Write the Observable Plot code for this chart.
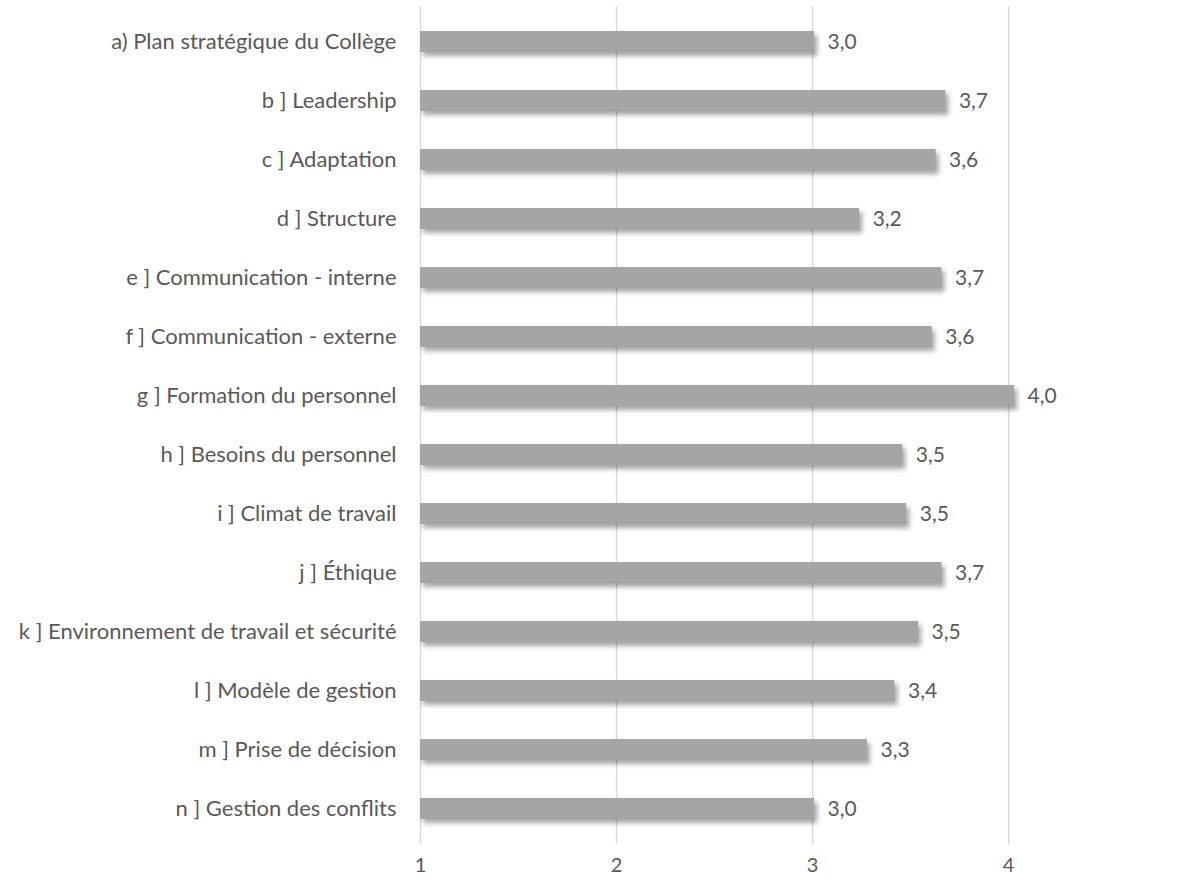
<!DOCTYPE html>
<html><head><meta charset="utf-8">
<script src="https://cdn.jsdelivr.net/npm/d3@7"></script>
<script src="https://cdn.jsdelivr.net/npm/@observablehq/plot@0.6"></script>
<style>body{margin:0;background:#fff;}</style>
</head><body><div id="chart"></div>
<script>
const categories = [
  "a) Plan stratégique du Collège",
  "b ] Leadership",
  "c ] Adaptation",
  "d ] Structure",
  "e ] Communication - interne",
  "f ] Communication - externe",
  "g ] Formation du personnel",
  "h ] Besoins du personnel",
  "i ] Climat de travail",
  "j ] Éthique",
  "k ] Environnement de travail et sécurité",
  "l ] Modèle de gestion",
  "m ] Prise de décision",
  "n ] Gestion des conflits"
];
const values = [3.01, 3.68, 3.63, 3.24, 3.66, 3.61, 4.03, 3.46, 3.48, 3.66, 3.54, 3.42, 3.28, 3.01];
const xTicks = [1, 2, 3, 4];

const data = categories.map((c, i) => ({category: c, value: values[i]}));
const fmt = v => d3.format(".1f")(v).replace(".", ",");

const chart = Plot.plot({
  width: 1193,
  height: 880,
  marginLeft: 420,
  marginRight: 28,
  marginTop: 6,
  marginBottom: 36,
  style: {fontFamily: "Lato, sans-serif", fontSize: "22px", color: "#595959", background: "#fff"},
  x: {domain: [1, 4.8], ticks: xTicks, tickSize: 0, tickPadding: 13, label: null, tickFormat: d => String(d)},
  y: {domain: categories, paddingInner: 0.64, paddingOuter: 0.38, tickSize: 0, tickPadding: 24, label: null},
  marks: [
    Plot.ruleX(xTicks, {stroke: "#d9d9d9", strokeWidth: 1.5}),
    Plot.barX(data, {y: "category", x1: 1, x2: "value", fill: "#a5a5a5"}),
    Plot.text(data, {y: "category", x: "value", text: d => fmt(d.value), textAnchor: "start", dx: 13, fill: "#595959", fontSize: 21})
  ]
});
const bars = chart.querySelector('g[aria-label="bar"]');
if (bars) bars.style.filter = "drop-shadow(3px 4px 2.5px rgba(0,0,0,0.35))";
const xAxis = chart.querySelector('g[aria-label="x-axis tick label"]');
if (xAxis) xAxis.setAttribute("font-size", "20");
document.getElementById("chart").appendChild(chart);
</script>
</body></html>
